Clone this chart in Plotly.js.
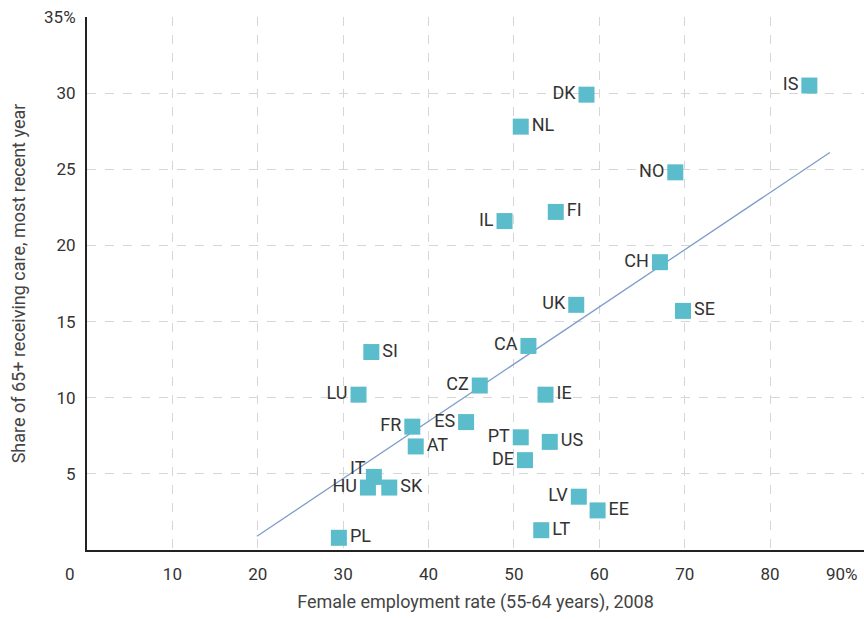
<!DOCTYPE html>
<html>
<head>
<meta charset="utf-8">
<script src="https://cdn.plot.ly/plotly-3.0.1.min.js"></script>
<style>body{margin:0;background:#fff}#chart{width:864px;height:619px}</style>
</head>
<body>
<div id="chart"></div>
<script>
var countries = ['IS','DK','NL','NO','FI','IL','CH','UK','SE','CA','SI','CZ','LU','IE','FR','ES','AT','PT','US','DE','IT','HU','SK','LV','EE','LT','PL'];
var employment = [84.6,58.5,50.8,68.9,54.9,48.9,67.1,57.3,69.8,51.7,33.3,46.0,31.8,53.7,38.1,44.4,38.5,50.8,54.2,51.3,33.6,32.9,35.4,57.6,59.8,53.2,29.5];
var careShare = [30.5,29.9,27.8,24.8,22.2,21.6,18.9,16.1,15.7,13.4,13.0,10.8,10.2,10.2,8.1,8.4,6.8,7.4,7.1,5.9,4.8,4.1,4.1,3.5,2.6,1.3,0.8];
var labelSide = ['L','L','R','L','R','L','L','L','R','L','R','L','L','R','L','L','R','L','R','L','A','L','R','L','R','R','R'];
var trendX = [19.9, 87.0];
var trendY = [0.9, 26.1];
var xTicks = [10,20,30,40,50,60,70,80];
var xTickText = ['10','20','30','40','50','60','70','80'];
var yTicks = [5,10,15,20,25,30,35];
var yTickText = ['5','10','15','20','25','30','35%'];

var font = 'Liberation Sans Narrow, Roboto, sans-serif';
var posMap = { L: 'middle left', R: 'middle right', A: 'middle left' };

var traces = [
  { x: trendX, y: trendY, mode: 'lines', line: { color: '#7f9cc9', width: 1.3 }, hoverinfo: 'skip' },
  { x: employment, y: careShare, mode: 'markers+text',
    text: countries.map((c, i) => labelSide[i] == 'A' ? '' : c),
    textposition: labelSide.map(s => posMap[s]),
    textfont: { family: font, size: 18, color: '#333' },
    marker: { symbol: 'square', size: 16, color: '#5bbccc' } }
];

var annotations = [
  { text: '0', xref: 'paper', yref: 'paper', x: 0, y: 0, xanchor: 'right', yanchor: 'top',
    xshift: -10, yshift: -12, showarrow: false, font: { size: 17, color: '#333' } },
  { text: '90%', xref: 'x', yref: 'paper', x: 90, y: 0, xanchor: 'right', yanchor: 'top',
    xshift: 5, yshift: -12, showarrow: false, font: { size: 17, color: '#333' } }
];
labelSide.forEach((s, i) => {
  if (s != 'A') return;
  annotations.push({ text: countries[i], x: employment[i], y: careShare[i], xanchor: 'right', yanchor: 'middle',
    xshift: -6, yshift: 9, showarrow: false, font: { family: font, size: 18, color: '#333' } });
});

var layout = {
  width: 864, height: 619,
  showlegend: false,
  plot_bgcolor: '#fff', paper_bgcolor: '#fff',
  margin: { l: 87, r: 0, t: 17, b: 69 },
  font: { family: font, color: '#333', size: 17 },
  xaxis: { range: [0, 91], tickvals: xTicks, ticktext: xTickText, showgrid: true,
           gridcolor: '#d6d6d6', griddash: 'dash', showline: true, linecolor: '#222', linewidth: 2,
           zeroline: false, ticks: '', ticklabelstandoff: 8,
           title: { text: 'Female employment rate (55-64 years), 2008', font: { size: 18, color: '#444' }, standoff: 12 } },
  yaxis: { range: [0, 35], tickvals: yTicks, ticktext: yTickText, showgrid: true,
           gridcolor: '#d6d6d6', griddash: 'dash', showline: true, linecolor: '#222', linewidth: 2,
           zeroline: false, ticks: '', ticklabelstandoff: 6,
           title: { text: 'Share of 65+ receiving care, most recent year', font: { size: 18, color: '#444' }, standoff: 14 } },
  annotations: annotations
};

Plotly.newPlot('chart', traces, layout, { displayModeBar: false });
</script>
</body>
</html>
